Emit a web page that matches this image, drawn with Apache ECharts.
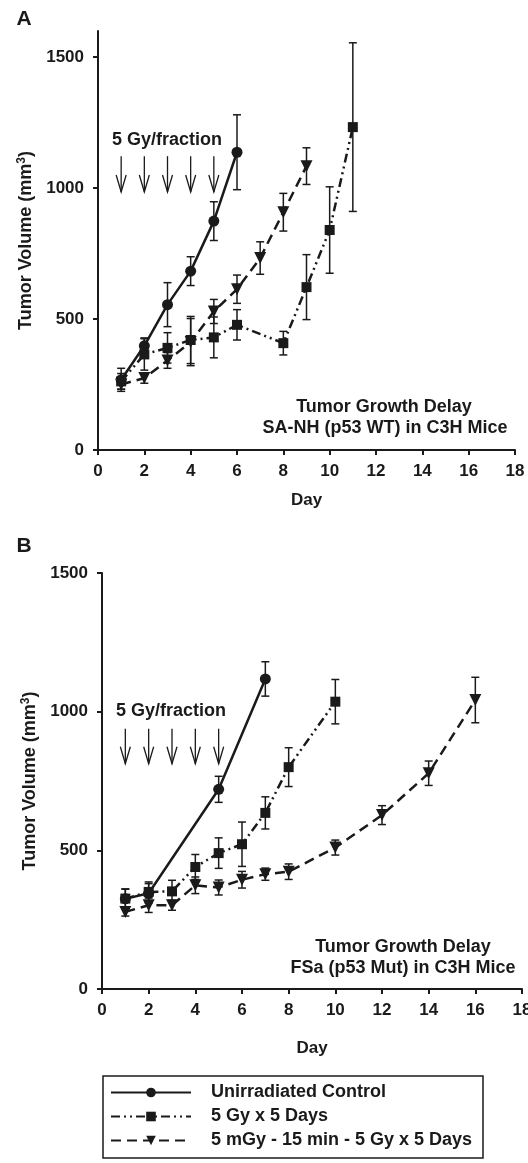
<!DOCTYPE html>
<html>
<head>
<meta charset="utf-8">
<script src="https://cdn.jsdelivr.net/npm/echarts@6/dist/echarts.min.js"></script>
<style>
html, body { margin: 0; padding: 0; background: #fff; }
#main { width: 528px; height: 1163px; }
</style>
</head>
<body>
<div id="main"></div>
<script>
// ---- data ----
var seriesNames = ['Unirradiated Control', '5 Gy x 5 Days', '5 mGy - 15 min - 5 Gy x 5 Days'];
var yTicks = [0, 500, 1000, 1500];

// panel A : SA-NH (p53 WT)
var ctrlDaysA = [1, 2, 3, 4, 5, 6];
var ctrlA     = [268, 398, 555, 683, 874, 1137];
var ctrlErrA  = [44, 30, 84, 55, 74, 143];

var gyDaysA = [1, 2, 3, 4, 5, 6, 8, 9, 10, 11];
var gyA     = [262, 365, 390, 420, 430, 478, 408, 622, 840, 1233];
var gyErrA  = [30, 60, 58, 90, 78, 58, 45, 124, 165, 322];

var mgyDaysA = [1, 2, 3, 4, 5, 6, 7, 8, 9];
var mgyA     = [250, 275, 342, 412, 529, 614, 733, 908, 1084];
var mgyErrA  = [18, 20, 30, 90, 46, 54, 62, 72, 70];

// panel B : FSa (p53 Mut)
var ctrlDaysB = [1, 2, 5, 7];
var ctrlB     = [325, 345, 720, 1118];
var ctrlErrB  = [35, 35, 47, 62];

var gyDaysB = [1, 2, 3, 4, 5, 6, 7, 8, 10];
var gyB     = [326, 350, 352, 440, 490, 522, 635, 800, 1036];
var gyErrB  = [35, 36, 40, 45, 55, 80, 58, 70, 80];

var mgyDaysB = [1, 2, 3, 4, 5, 6, 7, 8, 10, 12, 14, 16];
var mgyB     = [278, 302, 302, 374, 366, 394, 414, 423, 510, 627, 778, 1042];
var mgyErrB  = [15, 26, 18, 30, 27, 30, 22, 28, 27, 34, 44, 82];

// fraction days (arrows) and where the arrows sit on the y scale
var fractionDays = [1, 2, 3, 4, 5];
var arrowA = [1122, 985];
var arrowB = [938, 812];

// ---- styles ----
var ink = '#1a1a1a';
var fontName = '"Liberation Sans", Arial, sans-serif';
var styles = [
    { symbol: 'circle', size: 11, rotate: 0,   line: 'solid' },
    { symbol: 'rect',   size: 10, rotate: 0,   line: [9, 4, 2, 4, 2, 4] },
    { symbol: 'triangle', size: 12, rotate: 180, line: [10, 6] }
];

function pairs(days, vals) {
    var out = [];
    for (var i = 0; i < days.length; i++) out.push([days[i], vals[i]]);
    return out;
}
function triples(days, vals, errs) {
    var out = [];
    for (var i = 0; i < days.length; i++) out.push([days[i], vals[i], errs[i]]);
    return out;
}

function lineSeries(k, days, vals, idx) {
    var s = styles[k];
    return {
        name: seriesNames[k],
        type: 'line',
        xAxisIndex: idx, yAxisIndex: idx,
        data: pairs(days, vals),
        symbol: s.symbol, symbolSize: s.size, symbolRotate: s.rotate,
        itemStyle: { color: ink },
        lineStyle: { color: ink, width: 2.5, type: s.line },
        z: 3
    };
}

// error bars with caps
function renderErr(params, api) {
    var x = api.value(0), y = api.value(1), e = api.value(2);
    var hi = api.coord([x, y + e]);
    var lo = api.coord([x, y - e]);
    var w = 4;
    var st = { stroke: ink, lineWidth: 1.5 };
    return {
        type: 'group',
        children: [
            { type: 'line', shape: { x1: hi[0], y1: hi[1], x2: lo[0], y2: lo[1] }, style: st },
            { type: 'line', shape: { x1: hi[0] - w, y1: hi[1], x2: hi[0] + w, y2: hi[1] }, style: st },
            { type: 'line', shape: { x1: lo[0] - w, y1: lo[1], x2: lo[0] + w, y2: lo[1] }, style: st }
        ]
    };
}
function errSeries(days, vals, errs, idx) {
    return {
        type: 'custom',
        xAxisIndex: idx, yAxisIndex: idx,
        data: triples(days, vals, errs),
        encode: { x: 0, y: 1 },
        renderItem: renderErr,
        silent: true,
        z: 2
    };
}

// open-headed down arrows for the 5 fractions
function renderArrow(params, api) {
    var t = api.coord([api.value(0), api.value(1)]);
    var b = api.coord([api.value(0), api.value(2)]);
    var st = { stroke: ink, lineWidth: 1.3, fill: null };
    return {
        type: 'group',
        children: [
            { type: 'line', shape: { x1: t[0], y1: t[1], x2: b[0], y2: b[1] }, style: st },
            { type: 'polyline', shape: { points: [[b[0] - 5, b[1] - 17], [b[0], b[1]], [b[0] + 5, b[1] - 17]] }, style: st }
        ]
    };
}
function arrowSeries(range, idx) {
    var d = [];
    for (var i = 0; i < fractionDays.length; i++) d.push([fractionDays[i], range[0], range[1]]);
    return {
        type: 'custom', xAxisIndex: idx, yAxisIndex: idx,
        data: d, encode: { x: 0, y: [1, 2] },
        renderItem: renderArrow, silent: true
    };
}

function plain(v) { return String(v); }

function xAxis(idx, gap) {
    return {
        gridIndex: idx, type: 'value', min: 0, max: 18, interval: 2,
        name: 'Day', nameLocation: 'middle', nameGap: gap,
        nameTextStyle: { color: ink, fontSize: 17, fontWeight: 'bold', fontFamily: fontName },
        axisLine: { lineStyle: { color: ink, width: 2 } },
        axisTick: { length: 5, lineStyle: { color: ink, width: 2 } },
        axisLabel: { color: ink, fontSize: 17, fontWeight: 'bold', fontFamily: fontName, margin: 13, formatter: plain },
        splitLine: { show: false }
    };
}
function yAxis(idx, max, gap) {
    return {
        gridIndex: idx, type: 'value', min: 0, max: max, interval: 500,
        name: 'Tumor Volume (mm{sup|3})', nameLocation: 'middle', nameGap: gap,
        nameTextStyle: {
            color: ink, fontSize: 18, fontWeight: 'bold', fontFamily: fontName,
            rich: { sup: { fontSize: 12, fontWeight: 'bold', fontFamily: fontName, color: ink, verticalAlign: 'top', padding: [0, 0, 9, 0] } }
        },
        axisLine: { show: true, lineStyle: { color: ink, width: 2 } },
        axisTick: { show: true, length: 5, customValues: yTicks, lineStyle: { color: ink, width: 2 } },
        axisLabel: { color: ink, fontSize: 17, fontWeight: 'bold', fontFamily: fontName, margin: 14, customValues: yTicks, formatter: plain },
        splitLine: { show: false }
    };
}

function label(text, x, y, size) {
    return {
        type: 'text', x: x, y: y,
        style: { text: text, fill: ink, font: 'bold ' + (size || 18) + 'px ' + fontName, align: 'center', verticalAlign: 'middle' }
    };
}

var myChart = echarts.init(document.getElementById('main'), null, { renderer: 'canvas' });

var option = {
    animation: false,
    backgroundColor: '#fff',
    grid: [
        { left: 98, right: 13, top: 31, height: 419, outerBoundsMode: 'none' },
        { left: 102, right: 6, top: 573, height: 416, outerBoundsMode: 'none' }
    ],
    xAxis: [xAxis(0, 42), xAxis(1, 51)],
    yAxis: [yAxis(0, 1600, 55), yAxis(1, 1500, 61)],
    legend: {
        data: seriesNames,
        orient: 'vertical',
        left: 110, top: 1082,
        itemWidth: 80, itemHeight: 12, itemGap: 3,
        padding: 0,
        textStyle: { color: ink, fontSize: 18, fontWeight: 'bold', fontFamily: fontName, lineHeight: 21, padding: [0, 0, 0, 15] }
    },
    graphic: [
        label('A', 24, 19, 21),
        label('B', 24, 546, 21),
        label('5 Gy/fraction', 167, 140),
        label('5 Gy/fraction', 171, 711),
        label('Tumor Growth Delay', 384, 407),
        label('SA-NH (p53 WT) in C3H Mice', 385, 428),
        label('Tumor Growth Delay', 403, 947),
        label('FSa (p53 Mut) in C3H Mice', 403, 968),
        { type: 'rect', shape: { x: 103, y: 1076, width: 380, height: 82 }, style: { fill: null, stroke: ink, lineWidth: 1.5 } }
    ],
    series: [
        errSeries(ctrlDaysA, ctrlA, ctrlErrA, 0),
        errSeries(gyDaysA, gyA, gyErrA, 0),
        errSeries(mgyDaysA, mgyA, mgyErrA, 0),
        lineSeries(0, ctrlDaysA, ctrlA, 0),
        lineSeries(1, gyDaysA, gyA, 0),
        lineSeries(2, mgyDaysA, mgyA, 0),
        arrowSeries(arrowA, 0),

        errSeries(ctrlDaysB, ctrlB, ctrlErrB, 1),
        errSeries(gyDaysB, gyB, gyErrB, 1),
        errSeries(mgyDaysB, mgyB, mgyErrB, 1),
        lineSeries(0, ctrlDaysB, ctrlB, 1),
        lineSeries(1, gyDaysB, gyB, 1),
        lineSeries(2, mgyDaysB, mgyB, 1),
        arrowSeries(arrowB, 1)
    ]
};

myChart.setOption(option);
</script>
</body>
</html>
